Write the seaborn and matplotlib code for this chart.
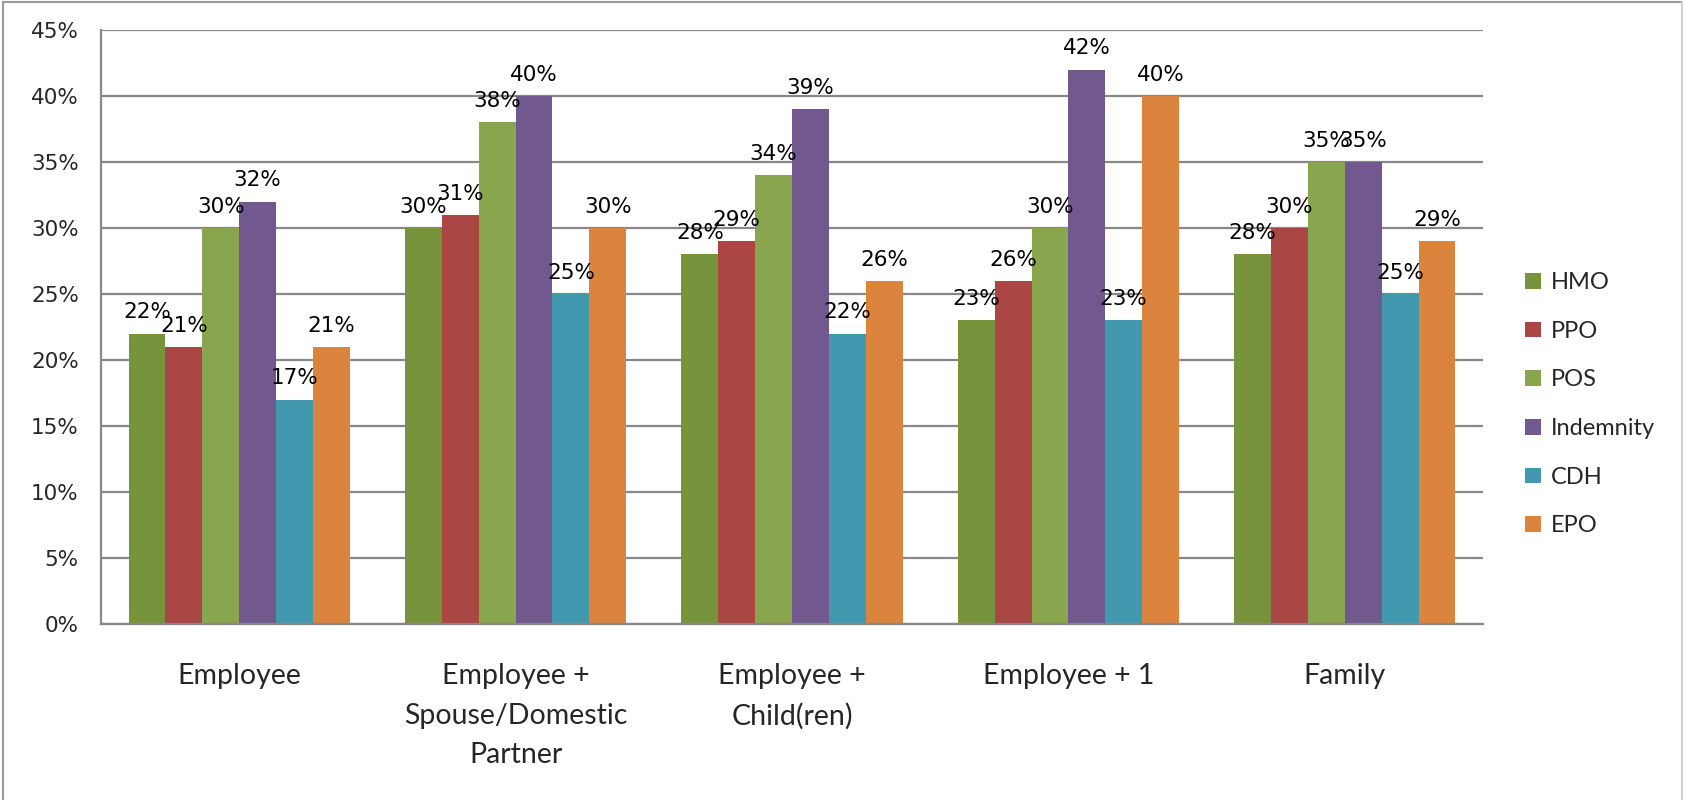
import matplotlib
matplotlib.use("Agg")
import matplotlib.pyplot as plt
import seaborn as sns
import pandas as pd
from matplotlib.lines import Line2D

categories = ["Employee", "Employee +\nSpouse/Domestic\nPartner", "Employee +\nChild(ren)",
              "Employee + 1", "Family"]
plans = ["HMO", "PPO", "POS", "Indemnity", "CDH", "EPO"]
hmo = [22, 30, 28, 23, 28]
ppo = [21, 31, 29, 26, 30]
pos = [30, 38, 34, 30, 35]
indemnity = [32, 40, 39, 42, 35]
cdh = [17, 25, 22, 23, 25]
epo = [21, 30, 26, 40, 29]
y_ticks = [0, 5, 10, 15, 20, 25, 30, 35, 40, 45]
colors = ["#77933C", "#AA4644", "#89A54E", "#71588F", "#4198AF", "#DB843D"]

series = [hmo, ppo, pos, indemnity, cdh, epo]
rows = []
for p, vals in zip(plans, series):
    for c, v in zip(categories, vals):
        rows.append({"category": c, "plan": p, "value": v})
df = pd.DataFrame(rows)

sns.set_theme(style="white")
fig = plt.figure(figsize=(16.84, 8.0), dpi=100)
ax = fig.add_axes([101/1684, 176/800, (1483-101)/1684, (624-30)/800])

sns.barplot(data=df, x="category", y="value", hue="plan", hue_order=plans,
            order=categories, palette=colors, saturation=1, width=0.8,
            linewidth=0, ax=ax, legend=True)

ax.set_ylim(0, 45)
ax.set_yticks(y_ticks)
ax.set_yticklabels([f"{t}%" for t in y_ticks], fontsize=15.5, family="DejaVu Sans")
ax.tick_params(axis="y", length=0, pad=16)
ax.tick_params(axis="x", length=0, pad=28)
for lbl in ax.get_xticklabels():
    lbl.set_fontsize(20.5)
    lbl.set_family("Lato")
    lbl.set_linespacing(1.65)
ax.set_xlabel("")
ax.set_ylabel("")
ax.yaxis.grid(True, color="#888888", linewidth=1.6)
ax.set_axisbelow(True)
for s in ["top", "right"]:
    ax.spines[s].set_visible(False)
for s in ["left", "bottom"]:
    ax.spines[s].set_color("#888888")
    ax.spines[s].set_linewidth(1.6)

for cont in ax.containers:
    ax.bar_label(cont, labels=[f"{v:.0f}%" for v in cont.datavalues],
                 padding=8, fontsize=15.5, family="DejaVu Sans", color="black")

handles, labels = ax.get_legend_handles_labels()
ax.legend(handles, labels, loc="upper left", bbox_to_anchor=(1504/1684, 1 - 251/800),
          bbox_transform=fig.transFigure, frameon=False,
          prop={"family": "Lato", "size": 17},
          handlelength=0.65, handleheight=0.65, handletextpad=0.45, labelspacing=1.17)

# outer chart border
bc = "#9a9a9a"
fig.add_artist(Line2D([3/1684, 3/1684], [0, 1 - 2/800], transform=fig.transFigure, color=bc, lw=1.5))
fig.add_artist(Line2D([3/1684, 1682/1684], [1 - 2/800, 1 - 2/800], transform=fig.transFigure, color=bc, lw=1.5))
fig.add_artist(Line2D([1682/1684, 1682/1684], [0, 1 - 2/800], transform=fig.transFigure, color="#d0d0d0", lw=1.5))

fig.savefig("out.png", dpi=100)
